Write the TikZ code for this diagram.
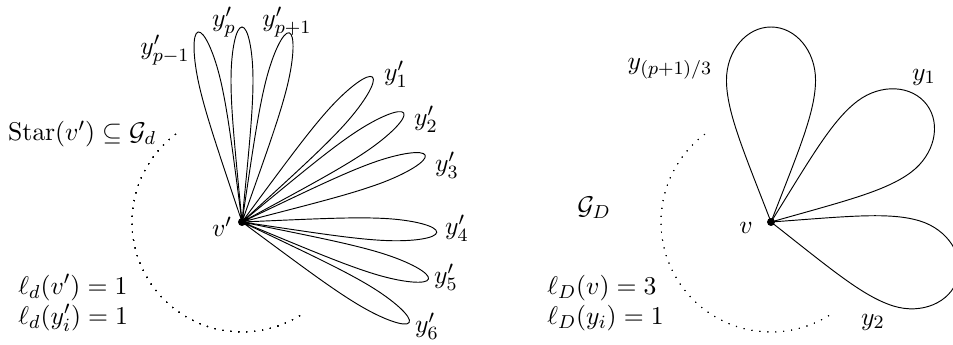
\documentclass[tikz,border=0pt]{standalone}
\usepackage{amsmath,amssymb}
\usetikzlibrary{positioning}
\tikzset{petals/.style={
    vertex/.style={circle, fill=black, inner sep=0pt, minimum size=3.4pt},
    lbl/.style={inner sep=0pt},
    boundary/.style={dash pattern=on 0.4pt off 3pt},
}}
% petal: vertex, direction, length, half width (cm)
\newcommand{\petal}[4]{%
    \draw[shift={(#1)}, rotate=#2, x=#3cm, y=#4cm]
        (0,0) .. controls (0.359,0.607) and (0.564,1) .. (0.728,1)
        .. controls (0.878,1) and (1,0.553) .. (1,0)
        .. controls (1,-0.553) and (0.878,-1) .. (0.728,-1)
        .. controls (0.564,-1) and (0.359,-0.607) .. (0,0);
}

\begin{document}
\begin{tikzpicture}[petals, font=\fontsize{10.95}{12.8}\selectfont]
    \useasboundingbox (0,0) rectangle (14.295,5.16);

    % star around v' in G_d
    \node[vertex] (vl) at (3.63,1.83) {};
    \foreach \a in {103,90,76,48,34,20,-3,-17,-31}
        \petal{vl}{\a}{2.925}{0.165}
    \draw[boundary] (vl) ++(127:1.65) arc[start angle=127, end angle=305, radius=1.65];

    \node[lbl] (vllab) at (3.33,1.755) {$v'$};
    \node[lbl] (ypm) at (2.475,4.41) {$y'_{p-1}$};
    \node[lbl, anchor=north] (yp) at (3.36,5.06) {$y'_{p}$};
    \node[lbl, anchor=north] (ypp) at (4.305,5.06) {$y'_{p+1}$};
    \node[lbl] (ya) at (5.94,4.05) {$y'_1$};
    \node[lbl] (yb) at (6.39,3.375) {$y'_2$};
    \node[lbl] (yc) at (6.705,2.685) {$y'_3$};
    \node[lbl] (yd) at (6.855,1.74) {$y'_4$};
    \node[lbl] (ye) at (6.69,1.005) {$y'_5$};
    \node[lbl] (yf) at (6.405,0.27) {$y'_6$};
    \node[lbl] (star) at (1.23,3.15) {$\mathrm{Star}(v') \subseteq \mathcal{G}_d$};
    \node[lbl, anchor=west, align=left] (levl) at (0.27,0.615)
        {$\ell_d(v') = 1$\\$\ell_d(y'_i) = 1$};

    % merged vertex v in G_D
    \node[vertex] (vr) at (11.565,1.83) {};
    \foreach \a in {90,37,-17}
        \petal{vr}{\a}{2.925}{0.668}
    \draw[boundary] (vr) ++(127:1.65) arc[start angle=127, end angle=305, radius=1.65];

    \node[lbl] (vrlab) at (11.19,1.74) {$v$};
    \node[lbl] (yq) at (10.05,4.125) {$y_{(p+1)/3}$};
    \node[lbl] (yone) at (13.86,4.005) {$y_1$};
    \node[lbl] (ytwo) at (13.095,0.33) {$y_2$};
    \node[lbl] (gD) at (8.91,2.04) {$\mathcal{G}_D$};
    \node[lbl, anchor=west, align=left] (levr) at (8.205,0.615)
        {$\ell_D(v) = 3$\\$\ell_D(y_i) = 1$};
\end{tikzpicture}
\end{document}
